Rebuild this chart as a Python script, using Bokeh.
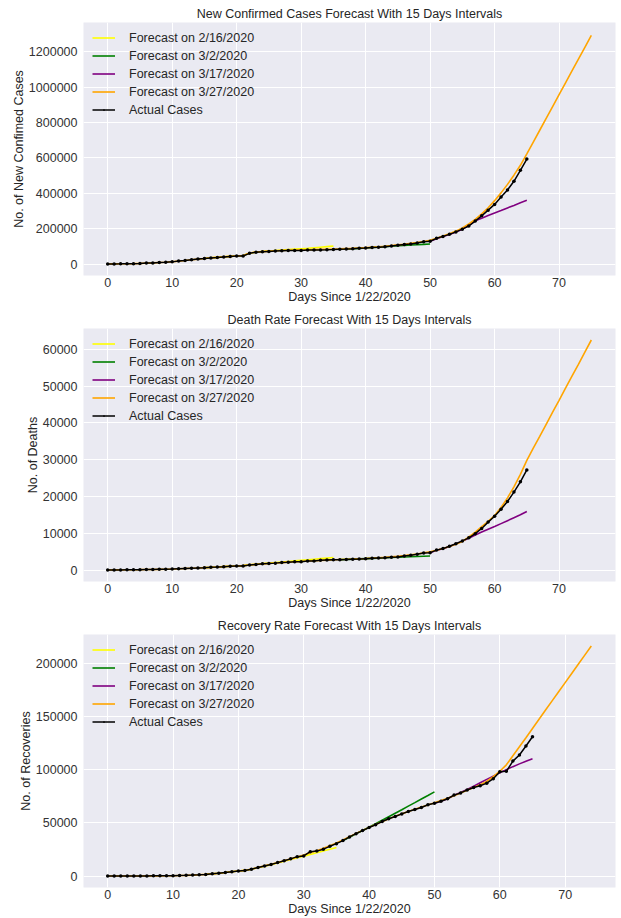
from bokeh.plotting import figure
from bokeh.layouts import column
from bokeh.models import FixedTicker, Legend, LegendItem, Range1d, BasicTickFormatter
from bokeh.embed import file_html
from bokeh.resources import INLINE

# ---------------- data ----------------
x_ticks = [0, 10, 20, 30, 40, 50, 60, 70]
forecast_labels = ["Forecast on 2/16/2020", "Forecast on 3/2/2020",
                   "Forecast on 3/17/2020", "Forecast on 3/27/2020"]
actual_label = "Actual Cases"
forecast_colors = ["yellow", "green", "purple", "orange"]

# start day of each forecast series (yellow, green, purple, orange)
forecast_start = [15, 36, 50, 0]

# --- New confirmed cases ---
confirmed_actual = [555, 654, 941, 1434, 2118, 2927, 5578, 6166, 8234, 9927,
                    12038, 16787, 19881, 23892, 27635, 30794, 34391, 37120, 40150, 42762,
                    44802, 45221, 60368, 66885, 69030, 71224, 73258, 75136, 75639, 76197,
                    76819, 78572, 78958, 79561, 80406, 81388, 82746, 84112, 86011, 88369,
                    90306, 92840, 95120, 97886, 101801, 105847, 109821, 113590, 118620, 125875,
                    128352, 145205, 156101, 167454, 181574, 197102, 214821, 242570, 272208, 304507,
                    336953, 378235, 418045, 467653, 529591, 593291]
confirmed_f1 = [31000, 34500, 37500, 40500, 43000, 45500, 48000,
                61000, 67000, 70500, 73500, 76500, 79000, 81500, 84000, 86500,
                89000, 92000, 95000, 98000, 101000]
confirmed_f2 = [83000, 84500, 86500, 88500, 90500, 93000, 95500, 98000, 100500, 103000,
                105000, 107000, 109000, 111000, 113000]
confirmed_f3 = [128000, 143000, 155000, 167000, 181000, 197000, 219000, 245000, 259000, 274000,
                288000, 302000, 317000, 331000, 346000, 360000]
confirmed_f4 = [600, 800, 1100, 1600, 2300, 3200, 5000, 6500, 8300, 10200,
                12500, 16000, 19800, 23800, 27500, 31000, 34500, 37500, 40500, 43000,
                45500, 48000, 62000, 67500, 70000, 72500, 74500, 76500, 77500, 78500,
                79500, 80500, 81500, 82500, 83500, 84500, 85500, 87000, 88500, 90500,
                92500, 95000, 97500, 100500, 104000, 108000, 112000, 116500, 121500, 127000,
                134000, 146000, 158000, 171000, 186000, 204000, 226000, 252000, 283000, 318000,
                358000, 402000, 450000, 502000, 558000, 622000,
                689000, 756000, 823000, 890000, 957000, 1024000, 1091000, 1158000, 1225000, 1292000]
confirmed_yticks = [0, 200000, 400000, 600000, 800000, 1000000, 1200000]

# --- Deaths ---
deaths_actual = [17, 18, 26, 42, 56, 82, 131, 133, 171, 213,
                 259, 362, 426, 492, 564, 634, 719, 806, 906, 1013,
                 1113, 1118, 1371, 1523, 1666, 1770, 1868, 2007, 2122, 2247,
                 2251, 2458, 2469, 2629, 2708, 2770, 2814, 2872, 2941, 2996,
                 3085, 3160, 3254, 3348, 3460, 3558, 3802, 3988, 4262, 4615,
                 4720, 5404, 5819, 6440, 7126, 7905, 8733, 9867, 11299, 13010,
                 14623, 16497, 18615, 21181, 23970, 27198]
deaths_f1 = [640, 720, 810, 910, 1010, 1100, 1180,
             1400, 1560, 1720, 1880, 2030, 2180, 2330, 2480, 2630,
             2780, 2930, 3080, 3230, 3380]
deaths_f2 = [2820, 2890, 2960, 3030, 3100, 3170, 3240, 3310, 3380, 3450,
             3520, 3590, 3660, 3730, 3800]
deaths_f3 = [4700, 5350, 5800, 6400, 7100, 7850, 8650, 9500, 10300, 11050,
             11800, 12600, 13400, 14200, 15000, 15900]
deaths_f4 = [20, 25, 35, 50, 65, 90, 125, 145, 180, 220,
             270, 350, 420, 490, 560, 640, 720, 810, 910, 1010,
             1100, 1180, 1380, 1520, 1660, 1780, 1890, 2010, 2130, 2240,
             2330, 2430, 2520, 2610, 2690, 2770, 2840, 2910, 2980, 3060,
             3140, 3230, 3330, 3440, 3570, 3720, 3900, 4110, 4360, 4650,
             4980, 5370, 5830, 6370, 7000, 7740, 9000, 10300, 11800, 13200,
             14800, 17000, 19600, 22600, 26000, 29800,
             33100, 36300, 39600, 42900, 46100, 49400, 52700, 55900, 59200, 62500]
deaths_yticks = [0, 10000, 20000, 30000, 40000, 50000, 60000]

# --- Recoveries ---
recovered_actual = [28, 30, 36, 39, 52, 61, 107, 126, 143, 222,
                    284, 472, 623, 852, 1124, 1487, 2011, 2616, 3244, 3946,
                    4683, 5150, 6295, 8058, 9395, 10865, 12583, 14352, 16121, 18177,
                    18890, 22886, 23394, 25227, 27905, 30384, 33277, 36711, 39782, 42716,
                    45602, 48228, 51170, 53796, 55865, 58358, 60694, 62494, 64404, 67003,
                    68324, 70251, 72624, 76034, 78088, 80840, 83207, 84854, 87256, 91499,
                    97899, 98351, 108000, 113787, 122150, 130915]
recovered_f1 = [1490, 2000, 2600, 3250, 3950, 4700, 5250,
                6300, 7800, 9200, 10700, 12300, 13900, 15500, 17100, 18700,
                20300, 21900, 23500, 25100, 26700]
recovered_f2 = [33300, 36500, 39700, 42800, 45900, 49100, 52400, 55700, 59000, 62300,
                65700, 69000, 72400, 75700, 79100]
recovered_f3 = [68300, 70300, 72600, 75800, 78400, 81300, 84400, 87600, 90800, 93900,
                97000, 100000, 102800, 105400, 107800, 110200]
recovered_f4 = [30, 35, 40, 45, 55, 70, 100, 125, 150, 210,
                290, 460, 630, 850, 1120, 1490, 2000, 2600, 3250, 3950,
                4700, 5250, 6500, 8000, 9500, 11000, 12600, 14300, 16100, 17900,
                19800, 21800, 23800, 26000, 28400, 31000, 33900, 37000, 40000, 42900,
                45700, 48400, 51100, 53700, 56100, 58400, 60600, 62700, 64800, 66800,
                68800, 70900, 73100, 75500, 78000, 80600, 83200, 85900, 88900, 93500,
                98500, 104500, 113000, 121500, 130000, 138700,
                147300, 156000, 164600, 173200, 181800, 190400, 199000, 207600, 216200]
recovered_yticks = [0, 50000, 100000, 150000, 200000]

# ---------------- styling ----------------
FONT = "Liberation Sans"
TXT = "#262626"
BG = "#EAEAF2"


def days_for(start, values):
    return list(range(start, start + len(values)))


def make_panel(title, ylabel, actual, forecasts, yticks, x_end, y_end):
    x_pad = 0.05 * x_end
    y_pad = 0.05 * y_end
    p = figure(width=621, height=306, output_backend="svg", toolbar_location=None,
               x_range=Range1d(-x_pad, x_end + x_pad),
               y_range=Range1d(-y_pad, y_end + y_pad),
               min_border_left=83, min_border_right=6,
               min_border_top=22, min_border_bottom=29,
               background_fill_color=BG, border_fill_color="white",
               outline_line_color=None)
    p.title.text = title
    p.title.align = "center"
    p.title.text_font = FONT
    p.title.text_font_size = "12.5px"
    p.title.text_font_style = "normal"
    p.title.text_color = TXT
    p.title.standoff = 3

    p.xaxis.ticker = FixedTicker(ticks=x_ticks)
    p.yaxis.ticker = FixedTicker(ticks=yticks)
    p.yaxis.formatter = BasicTickFormatter(use_scientific=False)
    p.xgrid.ticker = FixedTicker(ticks=x_ticks)
    p.ygrid.ticker = FixedTicker(ticks=yticks)
    for g in (p.xgrid, p.ygrid):
        g.grid_line_color = "white"
        g.grid_line_width = 1
    for ax in (p.xaxis, p.yaxis):
        ax.axis_line_color = None
        ax.major_tick_line_color = None
        ax.minor_tick_line_color = None
        ax.major_tick_out = 0
        ax.major_tick_in = 0
        ax.minor_tick_out = 0
        ax.minor_tick_in = 0
        ax.major_label_text_font = FONT
        ax.major_label_text_font_size = "12.5px"
        ax.major_label_text_color = "#333333"
        ax.axis_label_text_font = FONT
        ax.axis_label_text_font_size = "12.5px"
        ax.axis_label_text_font_style = "normal"
        ax.axis_label_text_color = TXT
    p.xaxis.axis_label = "Days Since 1/22/2020"
    p.xaxis.major_label_standoff = 2
    p.xaxis.axis_label_standoff = 0
    p.yaxis.axis_label = ylabel
    p.yaxis.major_label_standoff = 6
    p.yaxis.axis_label_standoff = 0

    items = []
    for vals, start, color, label in zip(forecasts, forecast_start, forecast_colors, forecast_labels):
        r = p.line(days_for(start, vals), vals, line_color=color, line_width=1.6)
        items.append(LegendItem(label=label, renderers=[r]))
    xa = days_for(0, actual)
    r1 = p.line(xa, actual, line_color="black", line_width=1.5)
    r2 = p.scatter(xa, actual, marker="dot", size=14, color="black")
    items.append(LegendItem(label=actual_label, renderers=[r1, r2]))

    legend = Legend(items=items, location=(9, 157), margin=0, padding=6,
                    spacing=1, glyph_width=23, glyph_height=17, label_height=17,
                    label_standoff=14, label_text_font=FONT,
                    label_text_font_size="12.5px", label_text_color=TXT,
                    background_fill_alpha=0, border_line_color=None)
    p.add_layout(legend)
    return p


p1 = make_panel("New Confirmed Cases Forecast With 15 Days Intervals",
                "No. of New Confimed Cases", confirmed_actual,
                [confirmed_f1, confirmed_f2, confirmed_f3, confirmed_f4],
                confirmed_yticks, 75, 1300000)
p2 = make_panel("Death Rate Forecast With 15 Days Intervals",
                "No. of Deaths", deaths_actual,
                [deaths_f1, deaths_f2, deaths_f3, deaths_f4],
                deaths_yticks, 75, 62500)
p3 = make_panel("Recovery Rate Forecast With 15 Days Intervals",
                "No. of Recoveries", recovered_actual,
                [recovered_f1, recovered_f2, recovered_f3, recovered_f4],
                recovered_yticks, 74, 216200)

layout = column(p1, p2, p3, spacing=0)
open("out.html", "w").write(file_html(layout, INLINE))
